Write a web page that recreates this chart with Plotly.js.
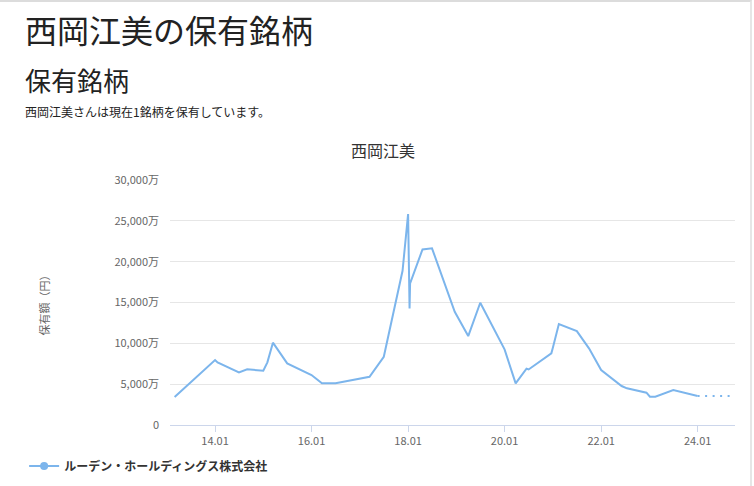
<!DOCTYPE html>
<html>
<head>
<meta charset="utf-8">
<script src="https://cdn.plot.ly/plotly-3.0.1.min.js"></script>
<style>
  html, body { margin: 0; padding: 0; background: #fff; }
  body { width: 754px; height: 486px; position: relative; overflow: hidden;
         font-family: "Noto Sans CJK JP", "Noto Sans", sans-serif; }
  #frame { position: absolute; left: 0; top: 0; width: 752px; height: 486px;
           border-top: 2px solid #dcdcdc; border-right: 2px solid #e6e6e6; box-sizing: border-box; }
  .h1 { position: absolute; left: 25px; top: 9px; font-size: 32px; line-height: 40px; color: #222; white-space: nowrap; }
  .h2 { position: absolute; left: 25px; top: 64px; font-size: 26px; line-height: 32px; color: #222; white-space: nowrap; }
  .p  { position: absolute; left: 25px; top: 104px; font-size: 12px; line-height: 16px; color: #222; white-space: nowrap; }
  #chart { position: absolute; left: 0; top: 130px; width: 754px; height: 356px; }
</style>
</head>
<body>
<div id="frame"></div>
<div class="h1">西岡江美の保有銘柄</div>
<div class="h2">保有銘柄</div>
<div class="p">西岡江美さんは現在1銘柄を保有しています。</div>
<div id="chart"></div>
<script>
// Data (values in 万円)
const chartTitle = "西岡江美";
const seriesName = "ルーデン・ホールディングス株式会社";
const dates = [
  "2013-03-01","2014-01-01","2014-01-20","2014-07-01","2014-09-01","2015-01-01",
  "2015-02-01","2015-03-15","2015-07-01","2016-01-01","2016-03-20","2016-07-01",
  "2017-03-15","2017-07-01","2017-11-20","2018-01-01","2018-01-12","2018-01-16",
  "2018-04-20","2018-07-01","2018-12-20","2019-04-01","2019-07-01","2020-01-01",
  "2020-03-25","2020-06-15","2020-07-01","2020-12-20","2021-01-01","2021-02-15",
  "2021-07-01","2021-10-01","2022-01-01","2022-06-05","2022-07-15","2022-12-10",
  "2023-01-05","2023-02-15","2023-07-01","2024-01-01"
];
const values = [
  3430, 7950, 7650, 6450, 6820, 6650,
  7670, 10080, 7550, 6120, 5100, 5100,
  5910, 8360, 18890, 25830, 14280, 17340,
  21500, 21630, 13870, 10890, 14970, 9260,
  5100, 6900, 6800, 8770, 9500, 12360,
  11500, 9390, 6730, 4770, 4490, 3960,
  3470, 3470, 4280, 3550
];
const projDates = ["2024-01-01", "2024-09-15"];
const projValues = [3550, 3550];
const yTickVals = [0, 5000, 10000, 15000, 20000, 25000, 30000];
const yTickText = ["0", "5,000万", "10,000万", "15,000万", "20,000万", "25,000万", "30,000万"];

const blue = "#7cb5ec";
const font = "Noto Sans CJK JP, Noto Sans, sans-serif";

const traces = [
  { x: dates, y: values, type: "scatter", mode: "lines",
    line: { color: blue, width: 2 }, showlegend: false, hoverinfo: "skip" },
  { x: projDates, y: projValues, type: "scatter", mode: "lines",
    line: { color: blue, width: 2, dash: "2px,5.5px" }, showlegend: false, hoverinfo: "skip" },
  { x: [null], y: [null], type: "scatter", mode: "lines+markers", name: seriesName,
    line: { color: blue, width: 2 }, marker: { color: blue, size: 8, symbol: "circle" } }
];

const layout = {
  width: 754, height: 356,
  margin: { l: 170, r: 19, t: 50, b: 61 },
  paper_bgcolor: "rgba(0,0,0,0)", plot_bgcolor: "#fff",
  font: { family: font, color: "#666", size: 11 },
  title: { text: chartTitle, font: { family: font, size: 16, color: "#333" },
           xref: "container", yref: "container", x: 0.508, xanchor: "center", y: 0.941, yanchor: "middle" },
  xaxis: {
    type: "date", range: ["2013-01-25", "2024-10-10"],
    tick0: "2014-01-01", dtick: "M24", tickformat: "%y.%m",
    showgrid: false, zeroline: false,
    showline: true, linecolor: "#ccd6eb", linewidth: 1,
    ticks: "outside", ticklen: 6, tickcolor: "#ccd6eb", tickwidth: 1,
    tickfont: { family: font, size: 11, color: "#666" }
  },
  yaxis: {
    range: [0, 30000], tickvals: yTickVals, ticktext: yTickText,
    showgrid: true, gridcolor: "#e6e6e6", gridwidth: 1,
    zeroline: false, showline: false, ticks: "", ticklabelstandoff: 10,
    tickfont: { family: font, size: 11, color: "#666" },
    title: { text: "保有額（円）", font: { family: font, size: 11, color: "#666" }, standoff: 62 }
  },
  showlegend: true,
  legend: { xref: "container", yref: "container", x: 0.032, xanchor: "left", y: 0.056, yanchor: "middle",
            orientation: "h", font: { family: font, size: 12, color: "#333", weight: "bold" },
            bgcolor: "rgba(0,0,0,0)" }
};

Plotly.newPlot("chart", traces, layout, { displayModeBar: false, staticPlot: true });
</script>
</body>
</html>
